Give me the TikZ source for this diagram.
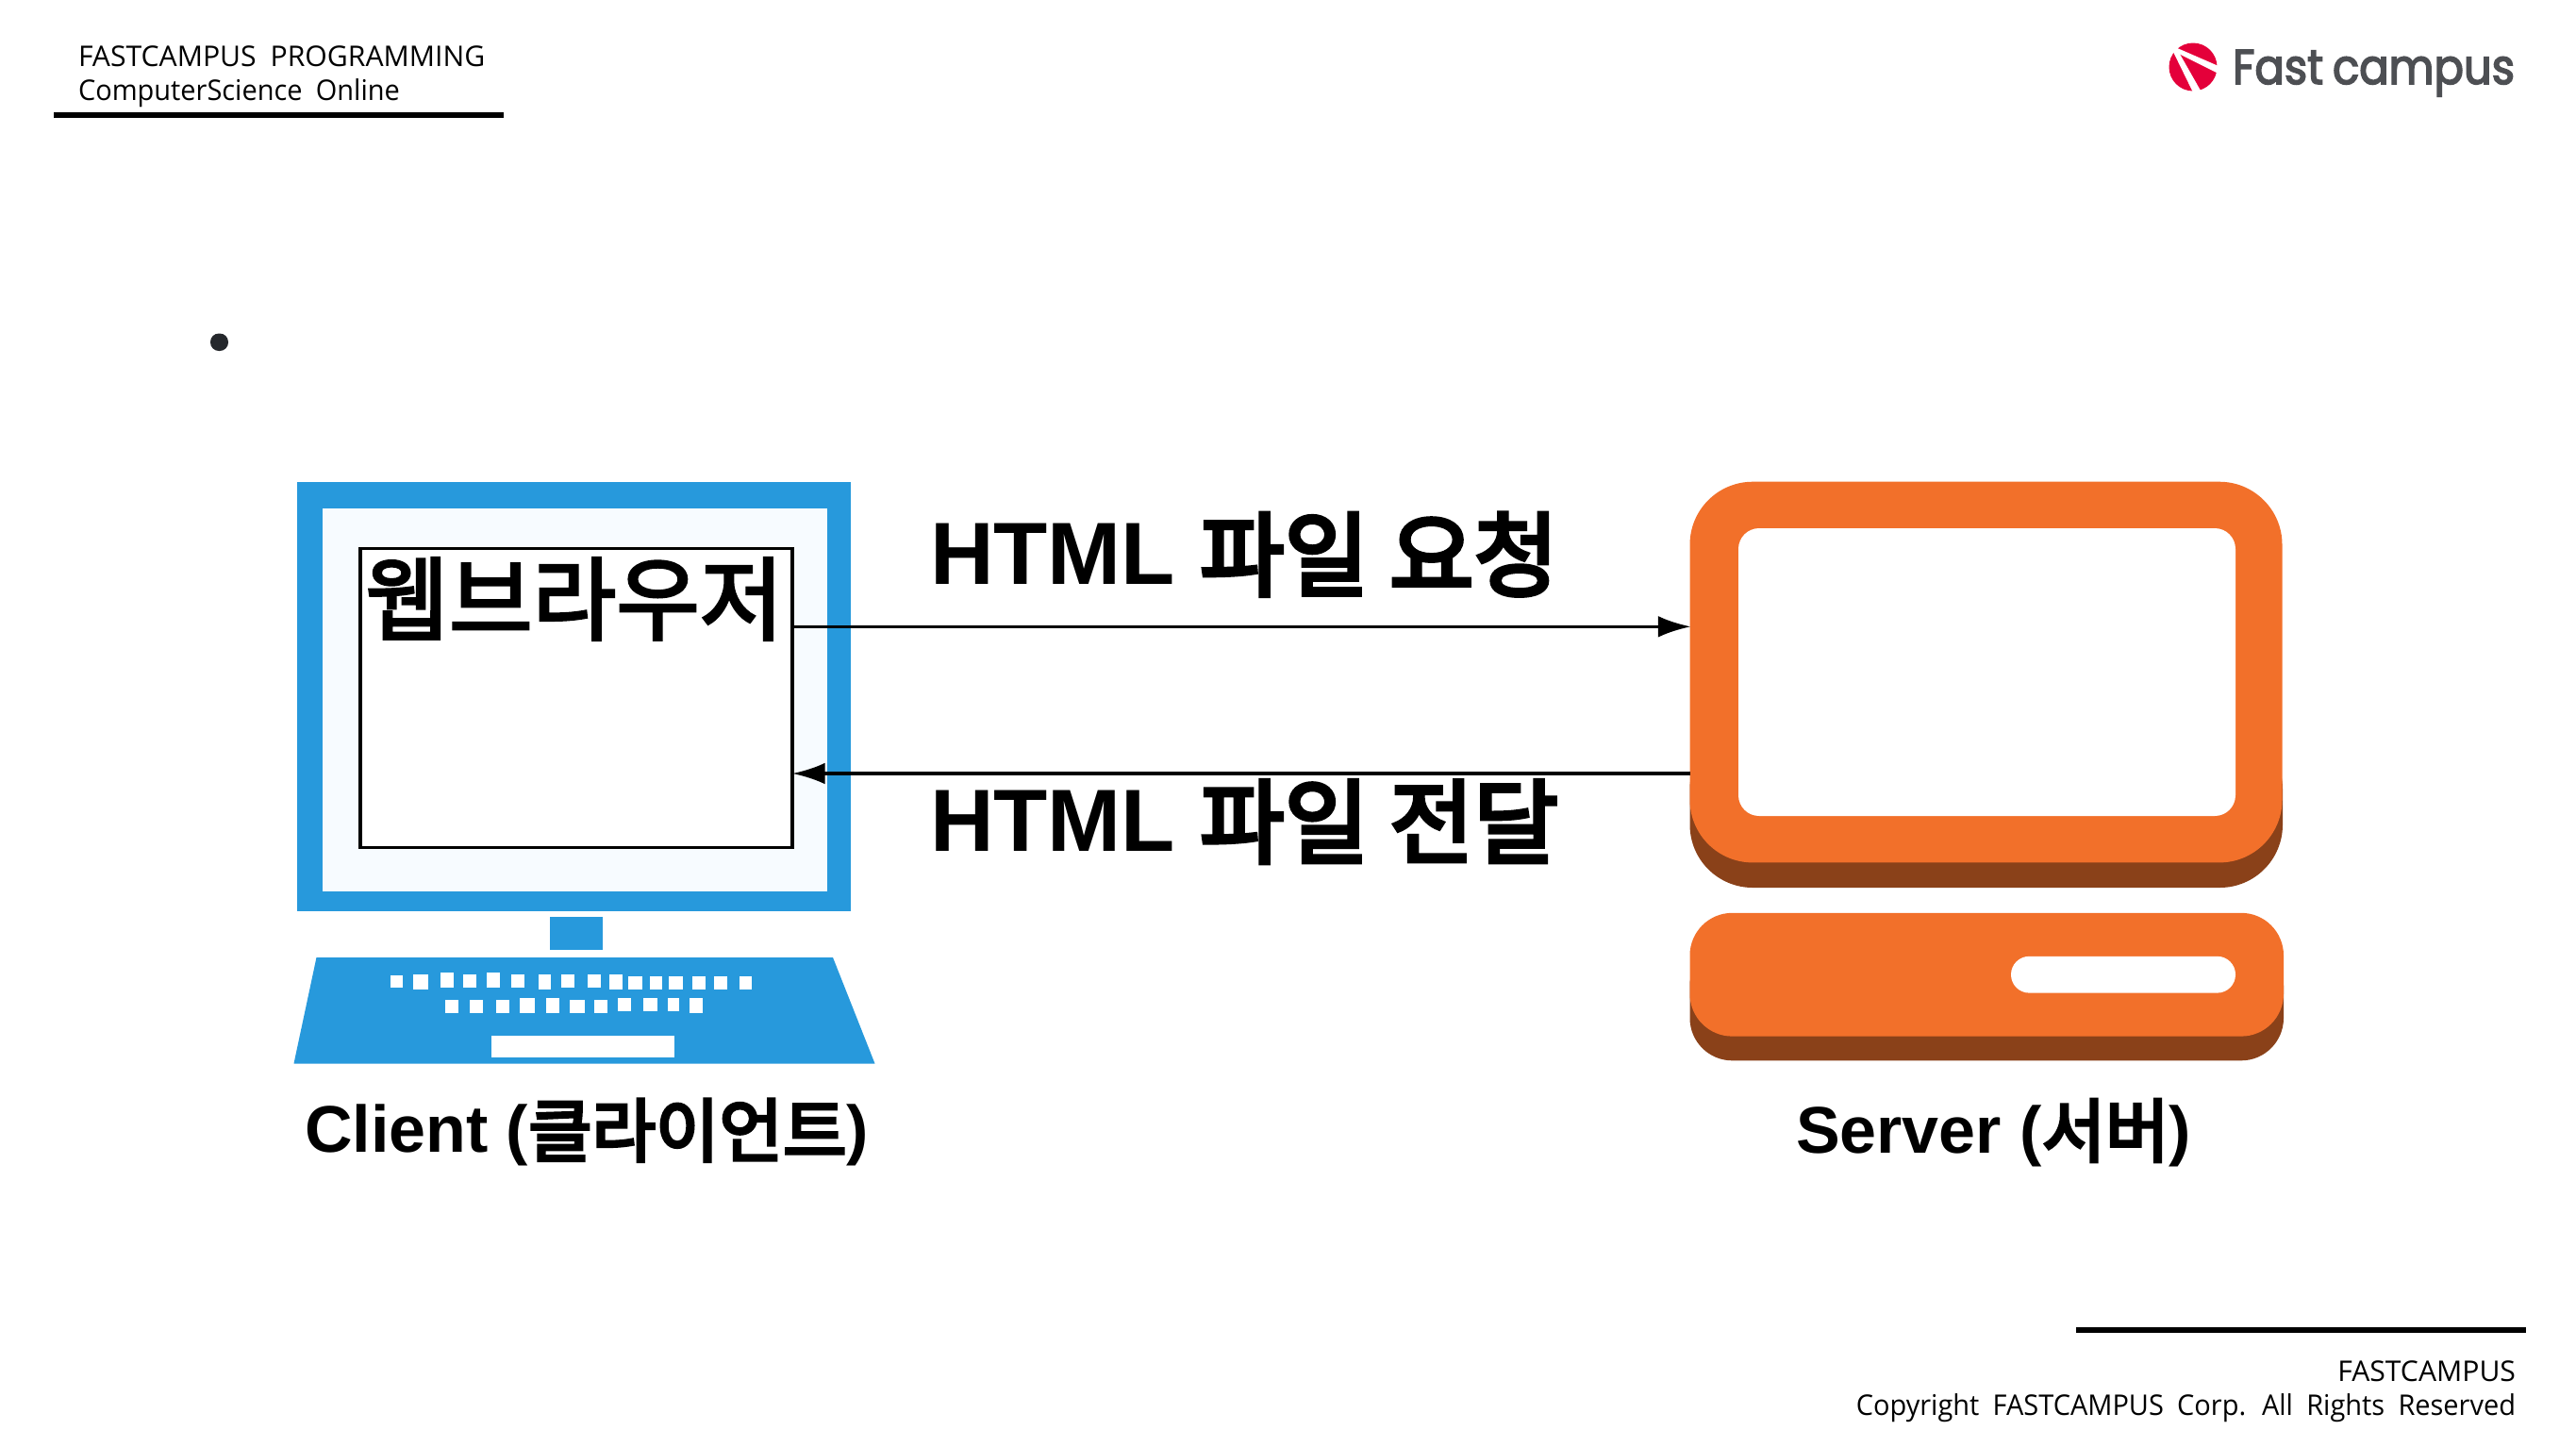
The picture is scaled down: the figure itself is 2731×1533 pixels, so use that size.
\documentclass[tikz,border=0pt]{standalone}
\usepackage{fontspec}
\usetikzlibrary{arrows.meta}
\setmainfont{Open Sans}
\newfontfamily\uiu{Open Sans}[WordSpace=1.9]
\newfontfamily\uil{Open Sans}[WordSpace=1.9,FakeStretch=0.96]
\newfontfamily\krb{Noto Sans CJK KR}[FakeBold=3]
\newfontfamily\krh{Noto Sans CJK KR}[FakeBold=4.5]
\newfontfamily\lat{Liberation Sans}
\newfontfamily\logofont{Poppins}[FakeBold=3,FakeStretch=0.9,WordSpace=0.8]
\definecolor{cblue}{HTML}{2799DC}
\definecolor{clight}{HTML}{F7FBFF}
\definecolor{corange}{HTML}{F2702A}
\definecolor{cbrown}{HTML}{8A4119}
\definecolor{clogo}{HTML}{E4003A}
\definecolor{cgray}{HTML}{4D4F53}
\definecolor{cbullet}{HTML}{25282C}
\newcommand{\boxn}[6]{\node[#2,inner sep=0pt,outer sep=0pt,minimum width={(#5-#3)*0.3pt},minimum height={(#6-#4)*0.3pt}] (#1) at ({(#3+#5)/2},{(#4+#6)/2}) {};}
\newcommand{\uifs}{\fontsize{9.05pt}{11pt}\selectfont}
\newcommand{\lblkr}[1]{{\mdseries\krh\fontsize{22pt}{24pt}\selectfont\raisebox{-1.2pt}{#1}}}
\newcommand{\msgkr}[1]{{\mdseries\krh\fontsize{29.2pt}{32pt}\selectfont\raisebox{-1.6pt}{#1}}}
\tikzset{
  txt/.style={inner sep=0pt,outer sep=0pt,anchor=base west},
  txtr/.style={inner sep=0pt,outer sep=0pt,anchor=base east},
  rule/.style={line width=1.8pt,black},
  msg/.style={line width=1pt,black,-{Latex[length=10.4pt,width=6.8pt]}},
  bluebox/.style={fill=cblue},
  orangebox/.style={fill=corange},
  brownbox/.style={fill=cbrown},
}
\begin{document}
\begin{tikzpicture}[x=0.3pt,y=-0.3pt]
\useasboundingbox (0,0) rectangle (2731,1533);
\fill[white] (0,0) rectangle (2731,1533);

% header / footer
\node[txt] (head1) at (83,70) {\uiu\uifs FASTCAMPUS PROGRAMMING};
\node[txt] (head2) at (83,106.5) {\uil\uifs ComputerScience Online};
\coordinate (hl) at (57,122); \coordinate (hr) at (533.5,122);
\draw[rule] (hl) -- (hr);
\coordinate (fl) at (2201,1410); \coordinate (fr) at (2678,1410);
\draw[rule] (fl) -- (fr);
\node[txtr] (foot1) at (2667,1464) {\uiu\uifs FASTCAMPUS};
\node[txtr] (foot2) at (2667,1500.5) {\uil\uifs Copyright FASTCAMPUS Corp. All Rights Reserved};

% bullet
\boxn{bullet}{fill=cbullet,rounded corners=2.7pt}{223}{353.5}{242}{372}

% logo
\fill[clogo] (2325,71) circle[radius=25.5];
\fill[white] (2303,53) -- (2308,52) -- (2333,96) -- (2325,98) -- cycle;
\fill[white] (2306,50) -- (2352,70) -- (2352,78) -- (2306,55) -- cycle;
\node[txt,text=cgray] (logo) at (2367,89) {\logofont\fontsize{15.5pt}{18pt}\selectfont Fast campus};

% client monitor
\boxn{cframe}{bluebox}{315}{511}{902}{966}
\boxn{cinner}{fill=clight}{341.5}{539}{877}{945}
\boxn{browser}{fill=white,draw=black,line width=1pt}{382}{581.5}{840}{898.5}
\node[inner sep=0pt,anchor=base,font=\krb\fontsize{28.9pt}{32pt}\selectfont] (btxt) at (609,671) {웹브라우저};
\boxn{cstand}{bluebox}{583}{972}{639}{1007}
\path[fill=cblue] (335.5,1015) -- (883,1015) -- (927.5,1127.5) -- (311.5,1127.5) -- cycle;
\begin{scope}[shift={(290,960)},x=0.1301pt,y=-0.1pt]
\foreach \a/\b/\c/\d in {285/317/222/261,342/378/220/267,407/440/214/261,463/496/220/261,520/553/214/261,581/614/220/261,647/679/220/267,703/736/220/261,768/801/220/261,822/854/220/267,867/902/225/267,919/951/225/267,967/1000/225/267,1025/1056/225/267,1078/1110/225/267,1138/1170/225/267,
419/451/300/341,480/512/300/341,545/577/300/341,602/638/293/341,666/699/293/341,725/760/300/341,785/817/300/341,842/874/293/336,903/939/293/336,965/992/293/336,1017/1049/293/341,533/980/415/484}
  \fill[white] (\a,\c) rectangle (\b,\d);
\end{scope}
\node[txt,font=\lat\bfseries\fontsize{21pt}{24pt}\selectfont] (clabel) at (323,1221.7) {Client (\lblkr{클라이언트})};

% server
\boxn{smonshadow}{brownbox,rounded corners=20pt}{1791.5}{770}{2420}{941}
\boxn{smon}{orangebox,rounded corners=20pt}{1791.5}{510.7}{2419.5}{914.4}
\boxn{sscreen}{fill=white,rounded corners=6.6pt}{1843}{560}{2370}{865}
\boxn{sbaseshadow}{brownbox,rounded corners=13.5pt}{1791.5}{1000}{2421}{1124.3}
\boxn{sbase}{orangebox,rounded corners=13.5pt}{1791.5}{967.8}{2421}{1098.6}
\boxn{sslot}{fill=white,rounded corners=5.8pt}{2132}{1013.8}{2370}{1052.6}
\node[txt,font=\lat\bfseries\fontsize{21pt}{24pt}\selectfont] (slabel) at (1904,1222) {Server (\lblkr{서버})};

% messages
\coordinate (ya) at (0,664.3);
\coordinate (yb) at (0,820);
\draw[msg,shorten >=-0.3pt] (browser.east |- ya) -- (smon.west |- ya);
\draw[msg] (smon.west |- yb) -- (browser.east |- yb);
\node[txt,font=\lat\bfseries\fontsize{28.1pt}{32pt}\selectfont] (lreq) at (986,619) {HTML \msgkr{파일 요청}};
\node[txt,font=\lat\bfseries\fontsize{28.1pt}{32pt}\selectfont] (lres) at (986,902.3) {HTML \msgkr{파일 전달}};
\end{tikzpicture}
\end{document}
